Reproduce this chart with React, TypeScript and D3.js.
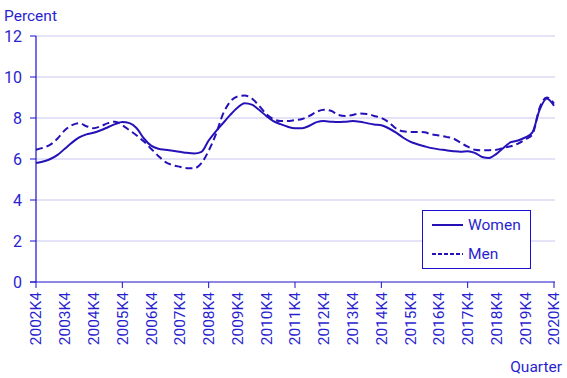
import React from "react";
import * as d3 from "d3";

const startYear = 2002;
const quarters: string[] = Array.from({ length: 73 }, (_, i) => {
  const q = ((3 + i) % 4) + 1;
  const y = startYear + Math.floor((3 + i) / 4);
  return `${y}K${q}`;
});

const women: number[] = [
  5.8, 5.88, 6.0, 6.2, 6.5, 6.8, 7.05, 7.2, 7.28, 7.4, 7.55, 7.7, 7.8, 7.75, 7.5, 7.0,
  6.65, 6.5, 6.45, 6.4, 6.35, 6.3, 6.27, 6.35, 6.9, 7.35, 7.75, 8.15, 8.5, 8.72, 8.65, 8.4,
  8.1, 7.85, 7.7, 7.57, 7.5, 7.5, 7.62, 7.8, 7.85, 7.82, 7.8, 7.82, 7.85, 7.82, 7.75, 7.68,
  7.65, 7.5, 7.3, 7.05, 6.85, 6.72, 6.62, 6.53, 6.47, 6.43, 6.38, 6.35, 6.38, 6.3, 6.1, 6.05,
  6.25, 6.55, 6.82, 6.9, 7.05, 7.3, 8.4, 8.95, 8.6,
];

const men: number[] = [
  6.45, 6.55, 6.7, 7.0, 7.4, 7.65, 7.75, 7.6, 7.5, 7.6, 7.75, 7.82, 7.65, 7.4, 7.15, 6.85,
  6.5, 6.15, 5.85, 5.7, 5.62, 5.55, 5.55, 5.8, 6.4, 7.2, 8.2, 8.8, 9.05, 9.1, 8.95, 8.6,
  8.2, 7.95, 7.85, 7.85, 7.9, 7.95, 8.1, 8.3, 8.4, 8.35, 8.15, 8.1, 8.15, 8.22, 8.2, 8.1,
  8.0, 7.8, 7.5, 7.35, 7.32, 7.32, 7.3, 7.2, 7.15, 7.08, 7.0, 6.8, 6.6, 6.45, 6.42, 6.43,
  6.45, 6.55, 6.62, 6.75, 6.95, 7.2, 8.5, 9.0, 8.7,
];

const yTicks: number[] = [0, 2, 4, 6, 8, 10, 12];
const seriesNames: string[] = ["Women", "Men"];

const W = 567;
const H = 378;
const margin = { left: 36, right: 13, top: 36, bottom: 96 };
const lineColor = "#2412b8";
const textColor = "#2a1fd0";
const axisColor = "#1a0fd0";
const gridColor = "#c9c6ef";
const font = "Roboto, 'Noto Sans', sans-serif";

export default function App() {
  const x = d3
    .scaleLinear()
    .domain([0, quarters.length - 1])
    .range([margin.left, W - margin.right]);
  const y = d3.scaleLinear().domain([0, 12]).range([H - margin.bottom, margin.top]);

  const line = d3
    .line<number>()
    .x((_, i) => x(i))
    .y((d) => y(d))
    .curve(d3.curveMonotoneX);

  const labelIdx = quarters.map((q, i) => i).filter((i) => quarters[i].endsWith("K4"));
  const tickIdx = labelIdx.filter((_, k) => k % 3 === 0);

  const x0 = margin.left;
  const x1 = W - margin.right;
  const y0 = y(0);

  return (
    <svg
      width={W}
      height={H}
      style={{ position: "absolute", left: 0, top: 0, background: "#fff" }}
      fontFamily={font}
    >
      {yTicks.map((t) => (
        <g key={t}>
          {t > 0 && (
            <line x1={x0} x2={x1 + 1} y1={y(t)} y2={y(t)} stroke={gridColor} strokeWidth={1} />
          )}
          <line x1={x0 - 6} x2={x0} y1={y(t)} y2={y(t)} stroke={axisColor} strokeWidth={1} />
          <text
            x={x0 - 14}
            y={y(t)}
            dy="0.35em"
            textAnchor="end"
            fontSize={16}
            fill={textColor}
          >
            {t}
          </text>
        </g>
      ))}
      <line x1={x0} x2={x0} y1={y(12)} y2={y0} stroke={axisColor} strokeWidth={1.2} />
      <line x1={x0 - 6} x2={x1 + 1} y1={y0} y2={y0} stroke={axisColor} strokeWidth={1.2} />
      {tickIdx.map((i) => (
        <line key={i} x1={x(i)} x2={x(i)} y1={y0} y2={y0 + 6} stroke={axisColor} strokeWidth={1} />
      ))}
      {labelIdx.map((i) => (
        <text
          key={i}
          transform={`translate(${x(i)},${y0 + 10}) rotate(-90)`}
          textAnchor="end"
          dy="0.35em"
          fontSize={15.5}
          fill={textColor}
        >
          {quarters[i]}
        </text>
      ))}
      <text x={4} y={21} fontSize={15.5} fill={textColor}>
        Percent
      </text>
      <text x={562} y={372} textAnchor="end" fontSize={15.5} fill={textColor}>
        Quarter
      </text>

      <path d={line(women) || ""} fill="none" stroke={lineColor} strokeWidth={2} />
      <path
        d={line(men) || ""}
        fill="none"
        stroke={lineColor}
        strokeWidth={2}
        strokeDasharray="7,4"
      />

      <g>
        <rect x={422.5} y={210.5} width={108} height={58} fill="#fff" stroke={axisColor} strokeWidth={1} />
        {seriesNames.map((n, k) => (
          <g key={n}>
            <line
              x1={432}
              x2={463}
              y1={225 + k * 29}
              y2={225 + k * 29}
              stroke={lineColor}
              strokeWidth={2}
              strokeDasharray={k === 1 ? "4,2" : undefined}
            />
            <text x={468} y={225 + k * 29} dy="0.35em" fontSize={15.5} fill={textColor}>
              {n}
            </text>
          </g>
        ))}
      </g>
    </svg>
  );
}
